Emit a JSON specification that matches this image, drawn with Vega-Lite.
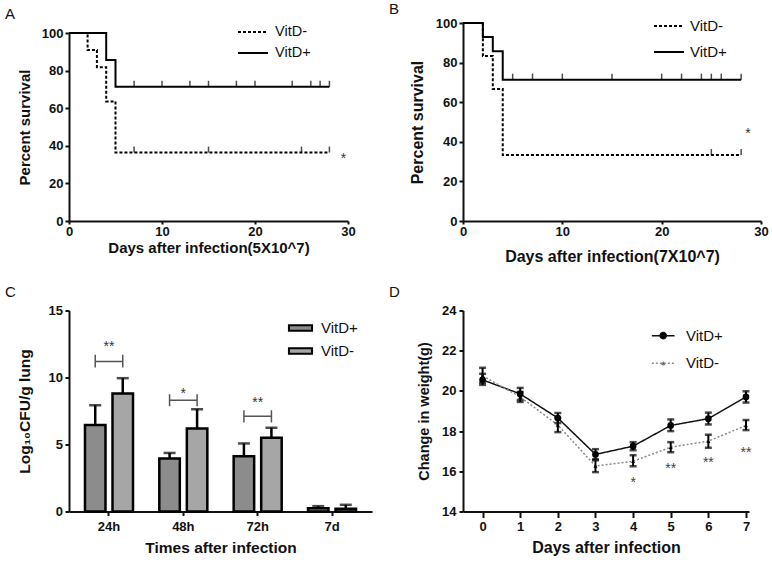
{
  "$schema": "https://vega.github.io/schema/vega-lite/v6.json",
  "autosize": {"type": "none"},
  "padding": {"left": 69, "top": 23, "right": 703, "bottom": 541},
  "background": "white",
  "config": {
    "font": "Liberation Sans",
    "view": {"stroke": null},
    "axis": {"domainColor": "#111", "domainWidth": 2, "tickColor": "#111", "tickWidth": 2, "labelFont": "Liberation Sans", "labelFontWeight": "bold", "labelFontSize": 13, "labelColor": "#111", "titleFont": "Liberation Sans", "titleFontWeight": "bold", "titleColor": "#111", "grid": false, "labelFlush": false, "labelOverlap": false},
    "legend": {"labelFont": "Liberation Sans", "labelColor": "#111", "labelFontWeight": "normal", "padding": 0, "rowPadding": 0, "title": null},
    "title": {"font": "Liberation Sans", "fontWeight": "normal", "color": "#111", "fontSize": 15, "anchor": "start", "frame": "group", "baseline": "alphabetic"}
  },
  "datasets": {
    "survA": [
      {"group": "VitD+", "day": 0, "pct": 100}, {"group": "VitD+", "day": 4, "pct": 85.7}, {"group": "VitD+", "day": 5, "pct": 71.4}, {"group": "VitD+", "day": 28, "pct": 71.4},
      {"group": "VitD-", "day": 0, "pct": 100}, {"group": "VitD-", "day": 2, "pct": 90.9}, {"group": "VitD-", "day": 3, "pct": 81.8}, {"group": "VitD-", "day": 4, "pct": 63.6}, {"group": "VitD-", "day": 5, "pct": 36.4}, {"group": "VitD-", "day": 28, "pct": 36.4}
    ],
    "censA": [
      {"group": "VitD+", "day": 7, "pct": 71.4}, {"group": "VitD+", "day": 10, "pct": 71.4}, {"group": "VitD+", "day": 13, "pct": 71.4}, {"group": "VitD+", "day": 15, "pct": 71.4}, {"group": "VitD+", "day": 18, "pct": 71.4}, {"group": "VitD+", "day": 20, "pct": 71.4}, {"group": "VitD+", "day": 24, "pct": 71.4}, {"group": "VitD+", "day": 26, "pct": 71.4}, {"group": "VitD+", "day": 27, "pct": 71.4}, {"group": "VitD+", "day": 28, "pct": 71.4},
      {"group": "VitD-", "day": 7, "pct": 36.4}, {"group": "VitD-", "day": 15, "pct": 36.4}, {"group": "VitD-", "day": 25, "pct": 36.4}, {"group": "VitD-", "day": 28, "pct": 36.4}
    ],
    "starA": [{"day": 29.5, "pct": 31, "label": "*"}],
    "survB": [
      {"group": "VitD+", "day": 0, "pct": 100}, {"group": "VitD+", "day": 2, "pct": 92.9}, {"group": "VitD+", "day": 3, "pct": 85.7}, {"group": "VitD+", "day": 4, "pct": 71.4}, {"group": "VitD+", "day": 28, "pct": 71.4},
      {"group": "VitD-", "day": 0, "pct": 100}, {"group": "VitD-", "day": 2, "pct": 83.3}, {"group": "VitD-", "day": 3, "pct": 66.7}, {"group": "VitD-", "day": 4, "pct": 33.3}, {"group": "VitD-", "day": 28, "pct": 33.3}
    ],
    "censB": [
      {"group": "VitD+", "day": 5, "pct": 71.4}, {"group": "VitD+", "day": 7, "pct": 71.4}, {"group": "VitD+", "day": 10, "pct": 71.4}, {"group": "VitD+", "day": 15, "pct": 71.4}, {"group": "VitD+", "day": 20, "pct": 71.4}, {"group": "VitD+", "day": 22, "pct": 71.4}, {"group": "VitD+", "day": 24, "pct": 71.4}, {"group": "VitD+", "day": 25, "pct": 71.4}, {"group": "VitD+", "day": 26, "pct": 71.4}, {"group": "VitD+", "day": 28, "pct": 71.4},
      {"group": "VitD-", "day": 25, "pct": 33.3}, {"group": "VitD-", "day": 28, "pct": 33.3}
    ],
    "starB": [{"day": 28.7, "pct": 42, "label": "*"}],
    "cfu": [
      {"time": "24h", "group": "VitD+", "mean": 6.45, "upper": 7.93},
      {"time": "24h", "group": "VitD-", "mean": 8.8, "upper": 9.95},
      {"time": "48h", "group": "VitD+", "mean": 3.95, "upper": 4.37},
      {"time": "48h", "group": "VitD-", "mean": 6.2, "upper": 7.63},
      {"time": "72h", "group": "VitD+", "mean": 4.13, "upper": 5.08},
      {"time": "72h", "group": "VitD-", "mean": 5.5, "upper": 6.25},
      {"time": "7d", "group": "VitD+", "mean": 0.25, "upper": 0.4},
      {"time": "7d", "group": "VitD-", "mean": 0.2, "upper": 0.5}
    ],
    "bracket": [
      {"time": "24h", "group": "VitD+", "y": 11.7, "ord": 1}, {"time": "24h", "group": "VitD+", "y": 10.75, "ord": 2}, {"time": "24h", "group": "VitD+", "y": 11.2, "ord": 3}, {"time": "24h", "group": "VitD-", "y": 11.2, "ord": 4}, {"time": "24h", "group": "VitD-", "y": 11.7, "ord": 5}, {"time": "24h", "group": "VitD-", "y": 10.75, "ord": 6},
      {"time": "48h", "group": "VitD+", "y": 8.75, "ord": 1}, {"time": "48h", "group": "VitD+", "y": 7.85, "ord": 2}, {"time": "48h", "group": "VitD+", "y": 8.3, "ord": 3}, {"time": "48h", "group": "VitD-", "y": 8.3, "ord": 4}, {"time": "48h", "group": "VitD-", "y": 8.75, "ord": 5}, {"time": "48h", "group": "VitD-", "y": 7.85, "ord": 6},
      {"time": "72h", "group": "VitD+", "y": 7.55, "ord": 1}, {"time": "72h", "group": "VitD+", "y": 6.65, "ord": 2}, {"time": "72h", "group": "VitD+", "y": 7.1, "ord": 3}, {"time": "72h", "group": "VitD-", "y": 7.1, "ord": 4}, {"time": "72h", "group": "VitD-", "y": 7.55, "ord": 5}, {"time": "72h", "group": "VitD-", "y": 6.65, "ord": 6}
    ],
    "starC": [
      {"time": "24h", "y": 12.0, "label": "**"},
      {"time": "48h", "y": 8.45, "label": "*"},
      {"time": "72h", "y": 7.8, "label": "**"}
    ],
    "weight": [
      {"group": "VitD+", "day": 0, "mean": 20.55, "lo": 20.3, "hi": 20.85},
      {"group": "VitD+", "day": 1, "mean": 19.85, "lo": 19.55, "hi": 20.15},
      {"group": "VitD+", "day": 2, "mean": 18.65, "lo": 18.4, "hi": 18.9},
      {"group": "VitD+", "day": 3, "mean": 16.84, "lo": 16.6, "hi": 17.1},
      {"group": "VitD+", "day": 4, "mean": 17.25, "lo": 17.05, "hi": 17.45},
      {"group": "VitD+", "day": 5, "mean": 18.28, "lo": 18.0, "hi": 18.58},
      {"group": "VitD+", "day": 6, "mean": 18.62, "lo": 18.33, "hi": 18.92},
      {"group": "VitD+", "day": 7, "mean": 19.7, "lo": 19.42, "hi": 19.98},
      {"group": "VitD-", "day": 0, "mean": 20.75, "lo": 20.4, "hi": 21.15},
      {"group": "VitD-", "day": 1, "mean": 19.7, "lo": 19.45, "hi": 19.95},
      {"group": "VitD-", "day": 2, "mean": 18.3, "lo": 17.95, "hi": 18.65},
      {"group": "VitD-", "day": 3, "mean": 16.26, "lo": 15.96, "hi": 16.55},
      {"group": "VitD-", "day": 4, "mean": 16.5, "lo": 16.25, "hi": 16.8},
      {"group": "VitD-", "day": 5, "mean": 17.2, "lo": 16.95, "hi": 17.45},
      {"group": "VitD-", "day": 6, "mean": 17.5, "lo": 17.17, "hi": 17.82},
      {"group": "VitD-", "day": 7, "mean": 18.28, "lo": 18.05, "hi": 18.55}
    ],
    "starD": [
      {"day": 4, "y": 15.2, "label": "*"},
      {"day": 5, "y": 15.9, "label": "**"},
      {"day": 6, "y": 16.2, "label": "**"},
      {"day": 7, "y": 16.73, "label": "**"}
    ]
  },
  "bounds": "flush",
  "columns": 2,
  "spacing": {"row": 89.5, "column": 91},
  "resolve": {
    "scale": {"strokeDash": "independent", "color": "independent", "fill": "independent"},
    "legend": {"strokeDash": "independent", "color": "independent", "fill": "independent"}
  },
  "concat": [
    {
      "width": 279,
      "height": 198,
      "title": {"text": "A", "dx": -64, "offset": -1},
      "layer": [
        {
          "data": {"name": "survA"},
          "mark": {"type": "line", "interpolate": "step-after", "strokeWidth": 2, "color": "black"},
          "encoding": {
            "x": {"field": "day", "type": "quantitative", "scale": {"domain": [0, 30], "nice": false}, "axis": {"values": [0, 10, 20, 30], "title": "Days after infection(5X10^7)", "titleFontSize": 15, "tickSize": 3, "labelPadding": 1, "titlePadding": 2}},
            "y": {"field": "pct", "type": "quantitative", "scale": {"domain": [0, 100], "range": [198, 10], "nice": false}, "axis": {"tickCount": 5, "labelOverlap": false, "title": "Percent survival", "titleFontSize": 15, "tickSize": 4, "labelPadding": 2, "titlePadding": 9}},
            "strokeDash": {"field": "group", "type": "nominal", "scale": {"domain": ["VitD-", "VitD+"], "range": [[3, 2], [1, 0]]}, "legend": {"orient": "none", "legendX": 173, "legendY": -2, "symbolType": "M-1.5,0H1.5", "symbolSize": 400, "symbolStrokeWidth": 2, "symbolStrokeColor": "black", "labelFontSize": 14.5, "labelOffset": 11, "rowPadding": 3}}
          }
        },
        {
          "data": {"name": "censA"},
          "mark": {"type": "tick", "orient": "vertical", "size": 6, "thickness": 1.5, "yOffset": -3, "color": "black"},
          "encoding": {"x": {"field": "day", "type": "quantitative"}, "y": {"field": "pct", "type": "quantitative"}}
        },
        {
          "data": {"name": "starA"},
          "mark": {"type": "text", "fontSize": 14, "baseline": "alphabetic", "color": "#333"},
          "encoding": {"x": {"field": "day", "type": "quantitative"}, "y": {"field": "pct", "type": "quantitative"}, "text": {"field": "label"}}
        }
      ]
    },
    {
      "width": 298,
      "height": 198,
      "title": {"text": "B", "dx": -74, "offset": 0, "dy": 3.5},
      "layer": [
        {
          "data": {"name": "survB"},
          "mark": {"type": "line", "interpolate": "step-after", "strokeWidth": 2, "color": "black"},
          "encoding": {
            "x": {"field": "day", "type": "quantitative", "scale": {"domain": [0, 30], "nice": false}, "axis": {"values": [0, 10, 20, 30], "title": "Days after infection(7X10^7)", "titleFontSize": 16, "tickSize": 3, "labelPadding": 1, "titlePadding": 10}},
            "y": {"field": "pct", "type": "quantitative", "scale": {"domain": [0, 100], "nice": false}, "axis": {"tickCount": 5, "labelOverlap": false, "title": "Percent survival", "titleFontSize": 16, "tickSize": 4, "labelPadding": 2, "titlePadding": 10}},
            "strokeDash": {"field": "group", "type": "nominal", "scale": {"domain": ["VitD-", "VitD+"], "range": [[3, 2], [1, 0]]}, "legend": {"orient": "none", "legendX": 193.5, "legendY": -9.5, "symbolType": "M-1.3,0H1.3", "symbolSize": 529, "symbolStrokeWidth": 2, "symbolStrokeColor": "black", "labelFontSize": 15, "labelOffset": 8.5, "rowPadding": 5}}
          }
        },
        {
          "data": {"name": "censB"},
          "mark": {"type": "tick", "orient": "vertical", "size": 6, "thickness": 1.5, "yOffset": -3, "color": "black"},
          "encoding": {"x": {"field": "day", "type": "quantitative"}, "y": {"field": "pct", "type": "quantitative"}}
        },
        {
          "data": {"name": "starB"},
          "mark": {"type": "text", "fontSize": 14, "baseline": "alphabetic", "color": "#333"},
          "encoding": {"x": {"field": "day", "type": "quantitative"}, "y": {"field": "pct", "type": "quantitative"}, "text": {"field": "label"}}
        }
      ]
    },
    {
      "width": 303,
      "height": 201,
      "title": {"text": "C", "dx": -64, "offset": 5},
      "layer": [
        {
          "data": {"name": "cfu"},
          "mark": {"type": "bar", "stroke": "black", "strokeWidth": 2.5},
          "encoding": {
            "x": {"field": "time", "type": "nominal", "scale": {"domain": ["24h", "48h", "72h", "7d"], "paddingInner": 0.354, "paddingOuter": 0.215}, "axis": {"title": "Times after infection", "titleFontSize": 15.5, "labelAngle": 0, "tickSize": 4, "labelPadding": 5, "titlePadding": 7}},
            "xOffset": {"field": "group", "type": "nominal", "scale": {"domain": ["VitD+", "VitD-"], "paddingInner": 0.255}},
            "y": {"field": "mean", "type": "quantitative", "scale": {"domain": [0, 15], "nice": false}, "axis": {"values": [0, 5, 10, 15], "title": "Log₁₀CFU/g lung", "titleFontSize": 15.5, "tickSize": 4, "labelPadding": 2.5, "titlePadding": 16}},
            "fill": {"field": "group", "type": "nominal", "scale": {"domain": ["VitD+", "VitD-"], "range": ["#8c8c8c", "#a6a6a6"]}, "legend": {"orient": "none", "legendX": 220, "legendY": 6, "symbolType": "M-1.1,-0.26H1.1V0.26H-1.1Z", "symbolSize": 441, "symbolStrokeWidth": 2, "symbolStrokeColor": "black", "labelFontSize": 15, "labelOffset": 9, "rowPadding": 3}}
          }
        },
        {
          "data": {"name": "cfu"},
          "mark": {"type": "rule", "strokeWidth": 2.5, "color": "black"},
          "encoding": {"x": {"field": "time", "type": "nominal"}, "xOffset": {"field": "group", "type": "nominal"}, "y": {"field": "mean", "type": "quantitative"}, "y2": {"field": "upper"}}
        },
        {
          "data": {"name": "cfu"},
          "mark": {"type": "tick", "orient": "horizontal", "size": 12, "thickness": 2.5, "color": "black"},
          "encoding": {"x": {"field": "time", "type": "nominal"}, "xOffset": {"field": "group", "type": "nominal"}, "y": {"field": "upper", "type": "quantitative"}}
        },
        {
          "data": {"name": "bracket"},
          "mark": {"type": "line", "strokeWidth": 1.5, "color": "#555"},
          "encoding": {"x": {"field": "time", "type": "nominal"}, "xOffset": {"field": "group", "type": "nominal"}, "y": {"field": "y", "type": "quantitative"}, "detail": {"field": "time"}, "order": {"field": "ord"}}
        },
        {
          "data": {"name": "starC"},
          "mark": {"type": "text", "fontSize": 14, "baseline": "alphabetic", "color": "#333"},
          "encoding": {"x": {"field": "time", "type": "nominal"}, "y": {"field": "y", "type": "quantitative"}, "text": {"field": "label"}}
        }
      ]
    },
    {
      "width": 286,
      "height": 201,
      "title": {"text": "D", "dx": -74, "offset": 4.5},
      "layer": [
        {
          "data": {"name": "weight"},
          "mark": {"type": "line", "strokeWidth": 1.5},
          "encoding": {
            "x": {"field": "day", "type": "quantitative", "scale": {"domain": [-0.52, 7.08], "nice": false}, "axis": {"values": [0, 1, 2, 3, 4, 5, 6, 7], "title": "Days after infection", "titleFontSize": 16, "tickSize": 6, "labelPadding": 3, "titlePadding": 6}},
            "y": {"field": "mean", "type": "quantitative", "scale": {"domain": [14, 24], "nice": false}, "axis": {"values": [14, 16, 18, 20, 22, 24], "title": "Change in weight(g)", "titleFontSize": 14.5, "tickSize": 4, "labelPadding": 3, "titlePadding": 10}},
            "color": {"field": "group", "type": "nominal", "scale": {"domain": ["VitD+", "VitD-"], "range": ["#111111", "#8a8a8a"]}, "legend": {"orient": "none", "legendX": 187.7, "legendY": 12.65, "symbolType": "M-1,0H1", "symbolSize": 515, "symbolStrokeWidth": 1.5, "labelFontSize": 15, "labelOffset": 10.3, "rowPadding": 6.7, "encode": {"symbols": {"update": {"shape": {"signal": "datum.value === 'VitD+' ? 'M-1,0H1M-0.27,0A0.27,0.27 0 1,0 0.27,0A0.27,0.27 0 1,0 -0.27,0Z' : 'M-1,0H1M-0.16,0.12L0,-0.16L0.16,0.12Z'"}, "fill": {"value": "black"}, "stroke": {"signal": "datum.value === 'VitD+' ? '#111111' : '#8a8a8a'"}, "strokeDash": {"signal": "datum.value === 'VitD+' ? [1, 0] : [2, 2]"}, "strokeWidth": {"value": 1.5}, "strokeOpacity": {"value": 1}, "opacity": {"value": 1}}}}}},
            "strokeDash": {"field": "group", "type": "nominal", "scale": {"domain": ["VitD+", "VitD-"], "range": [[1, 0], [2, 2]]}, "legend": null}
          }
        },
        {
          "data": {"name": "weight"},
          "mark": {"type": "rule", "strokeWidth": 2, "color": "black"},
          "encoding": {"x": {"field": "day", "type": "quantitative"}, "y": {"field": "lo", "type": "quantitative"}, "y2": {"field": "hi"}}
        },
        {
          "data": {"name": "weight"},
          "mark": {"type": "tick", "orient": "horizontal", "size": 7, "thickness": 2.5, "color": "black"},
          "encoding": {"x": {"field": "day", "type": "quantitative"}, "y": {"field": "lo", "type": "quantitative"}}
        },
        {
          "data": {"name": "weight"},
          "mark": {"type": "tick", "orient": "horizontal", "size": 7, "thickness": 2.5, "color": "black"},
          "encoding": {"x": {"field": "day", "type": "quantitative"}, "y": {"field": "hi", "type": "quantitative"}}
        },
        {
          "data": {"name": "weight"},
          "transform": [{"filter": "datum.group === 'VitD+'"}],
          "mark": {"type": "point", "filled": true, "color": "black", "opacity": 1, "shape": "circle", "size": 45},
          "encoding": {"x": {"field": "day", "type": "quantitative"}, "y": {"field": "mean", "type": "quantitative"}}
        },
        {
          "data": {"name": "weight"},
          "transform": [{"filter": "datum.group === 'VitD-'"}],
          "mark": {"type": "point", "filled": true, "color": "black", "opacity": 1, "shape": "triangle-up", "size": 16},
          "encoding": {"x": {"field": "day", "type": "quantitative"}, "y": {"field": "mean", "type": "quantitative"}}
        },
        {
          "data": {"name": "starD"},
          "mark": {"type": "text", "fontSize": 14, "baseline": "alphabetic", "color": "#444"},
          "encoding": {"x": {"field": "day", "type": "quantitative"}, "y": {"field": "y", "type": "quantitative"}, "text": {"field": "label"}}
        }
      ]
    }
  ]
}
